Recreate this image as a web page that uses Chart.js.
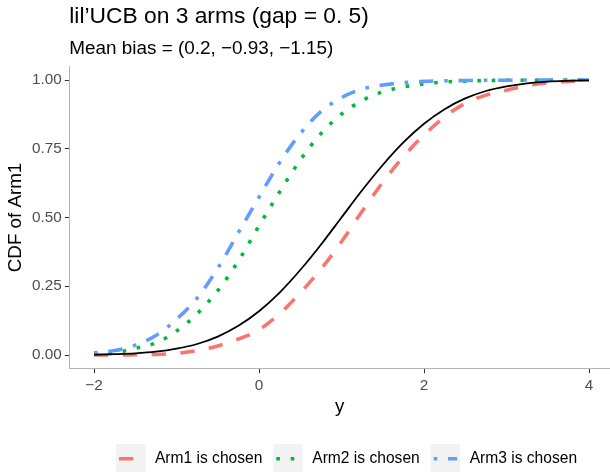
<!DOCTYPE html>
<html><head><meta charset="utf-8">
<script src="https://cdn.jsdelivr.net/npm/chart.js@4"></script>
<style>html,body{margin:0;padding:0;background:#fff;overflow:hidden}#wrap{width:610px;height:472px}</style>
</head><body><div id="wrap"><canvas id="c" width="610" height="472"></canvas></div>
<script>
// ---- data ----
const xs = [-2,-1.75,-1.5,-1.25,-1,-0.75,-0.5,-0.25,0,0.25,0.5,0.75,1,1.25,1.5,1.75,2,2.25,2.5,2.75,3,3.25,3.5,3.75,4];
const arm1 = [0.000,0.000,0.001,0.002,0.006,0.016,0.033,0.058,0.092,0.150,0.226,0.312,0.412,0.523,0.628,0.721,0.800,0.866,0.915,0.945,0.963,0.980,0.990,0.995,1.000];
const arm2 = [0.003,0.008,0.024,0.044,0.087,0.150,0.234,0.342,0.470,0.593,0.709,0.805,0.876,0.925,0.957,0.975,0.986,0.993,0.996,0.998,0.999,0.999,1.000,1.000,1.000];
const arm3 = [0.008,0.016,0.036,0.071,0.130,0.207,0.315,0.445,0.574,0.700,0.805,0.885,0.936,0.967,0.982,0.990,0.995,0.997,0.998,0.999,0.999,1.000,1.000,1.000,1.000];
const truth = [0.001,0.003,0.006,0.012,0.023,0.040,0.067,0.106,0.159,0.227,0.309,0.401,0.500,0.599,0.691,0.773,0.841,0.894,0.933,0.960,0.977,0.988,0.994,0.997,0.999];
const seriesLabels = ['Arm1 is chosen','Arm2 is chosen','Arm3 is chosen'];
const xTicks = [-2,0,2,4];
const xTickLabels = ['\u22122','0','2','4'];
const yTicks = [0,0.25,0.5,0.75,1];
const yTickLabels = ['0.00','0.25','0.50','0.75','1.00'];
const titleText = 'lil\u2019UCB on 3 arms (gap = 0. 5)';
const subtitleText = 'Mean bias = (0.2, \u22120.93, \u22121.15)';
const xTitle = 'y';
const yTitle = 'CDF of Arm1';

const FONT = '"Liberation Sans", Arial, Helvetica, sans-serif';
const pts = arr => xs.map((x,i)=>({x:x,y:arr[i]}));
const LW = 3.6;

const titlePlugin = {
  id:'titles',
  afterDraw(chart){
    const ctx = chart.ctx; const left = chart.chartArea.left;
    ctx.save();
    ctx.fillStyle = '#000'; ctx.textBaseline = 'alphabetic'; ctx.textAlign = 'left';
    ctx.font = '22.8px ' + FONT;
    ctx.fillText(titleText, left, 23);
    ctx.font = '18.9px ' + FONT;
    ctx.fillText(subtitleText, left, 53.5);
    ctx.restore();
  }
};

const legendPlugin = {
  id:'ggLegend',
  afterDraw(chart){
    const ctx = chart.ctx;
    const key = 29.4, top = 444;
    let x = 116;
    ctx.save();
    ctx.font = '15.6px ' + FONT;
    chart.data.datasets.forEach(ds=>{
      if(!ds.inLegend) return;
      ctx.fillStyle = '#F2F2F2';
      ctx.fillRect(x, top, key, key);
      ctx.save();
      ctx.beginPath();
      ctx.rect(x, top, key, key); ctx.clip();
      ctx.strokeStyle = ds.borderColor; ctx.lineWidth = ds.borderWidth;
      ctx.setLineDash(ds.borderDash || []); ctx.lineCap = 'butt';
      ctx.beginPath();
      ctx.moveTo(x + key*0.1, top + key/2); ctx.lineTo(x + key*0.9, top + key/2);
      ctx.stroke();
      ctx.restore();
      const tx = x + key + 9.5;
      ctx.fillStyle = '#000'; ctx.textBaseline = 'middle'; ctx.textAlign = 'left';
      ctx.fillText(ds.label, tx, top + key/2);
      x = tx + ctx.measureText(ds.label).width + 11;
    });
    ctx.restore();
  }
};

new Chart(document.getElementById('c'), {
  type:'line',
  data:{ datasets:[
    {label:seriesLabels[0], data:pts(arm1), borderColor:'#F8766D', borderWidth:LW, borderDash:[14.4,14.4], order:3, inLegend:true},
    {label:seriesLabels[1], data:pts(arm2), borderColor:'#00BA38', borderWidth:LW, borderDash:[3.6,10.8], order:2, inLegend:true},
    {label:seriesLabels[2], data:pts(arm3), borderColor:'#619CFF', borderWidth:LW, borderDash:[3.6,10.8,14.4,10.8], order:1, inLegend:true},
    {label:'truth', data:pts(truth), borderColor:'#000000', borderWidth:1.8, order:0, inLegend:false}
  ]},
  options:{
    responsive:false, devicePixelRatio:1, animation:false,
    parsing:true,
    elements:{ point:{radius:0, hoverRadius:0}, line:{cubicInterpolationMode:'monotone', borderCapStyle:'butt', fill:false} },
    layout:{ padding:{top:66.25, left:0, right:0, bottom:0} },
    plugins:{ legend:{display:false}, tooltip:{enabled:false}, title:{display:false} },
    events:[],
    scales:{
      x:{ type:'linear', min:-2.3, max:4.2545,
        afterBuildTicks: s => { s.ticks = xTicks.map(v=>({value:v})); },
        afterFit: s => { s.height = 103.25; },
        grid:{ display:true, drawOnChartArea:false, drawTicks:true, tickLength:4.5, tickColor:'#333333', tickWidth:1 },
        border:{ display:true, color:'#B3B3B3', width:1 },
        ticks:{ padding:3, color:'#4D4D4D', font:{family:FONT, size:15.3}, maxRotation:0, autoSkip:false,
          callback: v => xTickLabels[xTicks.indexOf(v)] },
        title:{ display:true, text:xTitle, color:'#000', font:{family:FONT, size:18.75}, padding:{top:0, bottom:53.75} }
      },
      y:{ type:'linear', min:-0.05, max:1.05,
        afterBuildTicks: s => { s.ticks = yTicks.map(v=>({value:v})); },
        afterFit: s => { s.width = 69.25; },
        grid:{ display:true, drawOnChartArea:false, drawTicks:true, tickLength:4.5, tickColor:'#333333', tickWidth:1 },
        border:{ display:true, color:'#B3B3B3', width:1 },
        ticks:{ padding:3, color:'#4D4D4D', font:{family:FONT, size:15.3}, autoSkip:false,
          callback: v => yTickLabels[yTicks.indexOf(v)] },
        title:{ display:true, text:yTitle, color:'#000', font:{family:FONT, size:18.75}, padding:{top:4.5, bottom:0} }
      }
    }
  },
  plugins:[titlePlugin, legendPlugin]
});
</script></body></html>
